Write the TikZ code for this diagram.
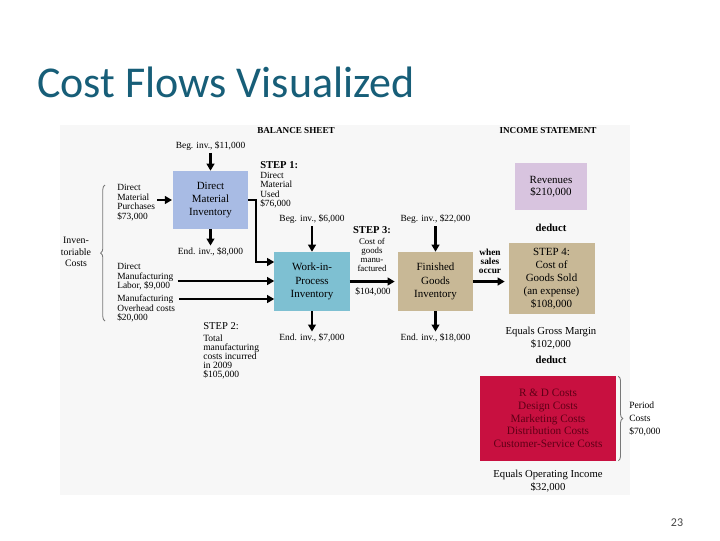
\documentclass[tikz,border=0pt]{standalone}
\usepackage{fontspec}
\setmainfont{Liberation Serif}
\newfontfamily\slidefont{Carlito}
\usetikzlibrary{arrows.meta,decorations.pathreplacing,positioning}

\definecolor{titleteal}{RGB}{23,94,120}
\definecolor{dmblue}{RGB}{168,187,228}
\definecolor{wipteal}{RGB}{126,192,210}
\definecolor{goodstan}{RGB}{200,184,150}
\definecolor{revlilac}{RGB}{216,196,223}
\definecolor{periodred}{RGB}{200,16,64}
\definecolor{periodtext}{RGB}{95,0,22}
\definecolor{bracegray}{RGB}{120,120,120}
\definecolor{pagegray}{RGB}{70,70,70}

\begin{document}
\begin{tikzpicture}
  [x=0.025cm,y=-0.025cm,>={Triangle[length=5pt,width=5.5pt]},%按像素坐标作图,y轴向下
   account/.style={rectangle,inner sep=0pt,align=center,font=\fontsize{7.8}{9.4}\selectfont},%账户方框的公共样式
   blue account/.style={account,fill=dmblue,minimum width=1.875cm,minimum height=1.45cm},
   teal account/.style={account,fill=wipteal,minimum width=1.875cm,minimum height=1.475cm},
   tan account/.style={account,fill=goodstan,minimum width=1.85cm,minimum height=1.475cm},
   lilac account/.style={account,fill=revlilac,minimum width=1.8cm,minimum height=1.175cm,font=\fontsize{7.8}{8.6}\selectfont},
   red account/.style={account,fill=periodred,text=periodtext,minimum width=3.4cm,minimum height=2.1cm,font=\fontsize{8}{9}\selectfont},
   note/.style={inner sep=0pt,font=\fontsize{6.7}{6.8}\selectfont},%小号说明文字
   remark/.style={inner sep=0pt,align=center,font=\fontsize{7.6}{9.2}\selectfont},%利润表中的说明文字
   heading/.style={inner sep=0pt,font=\bfseries\fontsize{6.5}{7}\selectfont},
   flow/.style={->,line width=1.6pt},%粗黑箭头
   brace/.style={decorate,decoration={brace,amplitude=1.1mm},draw=bracegray,line width=0.6pt}]

  \fill[white] (0,0) rectangle (720,540);
  \useasboundingbox (0,0) rectangle (720,540);
  \fill[black!3] (60,125) rectangle (630,495);%图片区域的浅灰底色

  % 标题与页码
  \node[anchor=base west,inner sep=0pt,text=titleteal,font=\slidefont\fontsize{31.3}{36}\selectfont] (title) at (37,97) {Cost Flows Visualized};
  \node[inner sep=0pt,text=pagegray,font=\slidefont\fontsize{8.5}{10}\selectfont] (page) at (677,523) {23};

  \node[heading] (bs) at (296,131) {BALANCE SHEET};
  \node[heading] (is) at (548,131) {INCOME STATEMENT};

  % 资产负债表中的三个存货账户
  \node[blue account] (dmi) at (210.5,200) {Direct\\Material\\Inventory};
  \node[teal account] (wip) at (312,281.5) {Work-in-\\Process\\Inventory};
  \node[tan account]  (fg)  at (435.5,281.5) {Finished\\Goods\\Inventory};

  \node[note] (beg1) [above=5mm of dmi]  {Beg. inv., \$11,000};
  \node[note] (end1) [below=4.6mm of dmi] {End. inv., \$8,000};
  \node[note] (beg2) [above=6.9mm of wip] {Beg. inv., \$6,000};
  \node[note] (end2) [below=5.6mm of wip] {End. inv., \$7,000};
  \node[note] (beg3) [above=6.9mm of fg]  {Beg. inv., \$22,000};
  \node[note] (end3) [below=5.6mm of fg]  {End. inv., \$18,000};

  \draw[flow,shorten <=1.5pt] (beg1) -- (dmi);
  \draw[flow,shorten >=1.5pt] (dmi) -- (end1);
  \draw[flow,shorten <=1.5pt] (beg2) -- (wip);
  \draw[flow,shorten >=1.5pt] (wip) -- (end2);
  \draw[flow,shorten <=1.5pt] (beg3) -- (fg);
  \draw[flow,shorten >=1.5pt] (fg) -- (end3);

  % 左侧的投入
  \node[note,align=left,anchor=west] (dmp) at (117,202.5) {Direct\\Material\\Purchases\\\$73,000};
  \node[note,align=left,anchor=west] (dml) at (117,277) {Direct\\Manufacturing\\Labor, \$9,000};
  \node[note,align=left,anchor=west] (moh) at (117,308.5) {Manufacturing\\Overhead costs\\\$20,000};

  \draw[flow,shorten <=1.5pt,shorten >=0.5pt] (dmp.east |- dmi.west) -- (dmi.west);
  \draw[flow] ([xshift=1mm]dml.east |- 0,281) -- (wip.west |- 0,281);
  \draw[flow] ([xshift=1mm]moh.east |- 0,299) -- (wip.west |- 0,299);
  \draw[flow] (dmi.east) -- ++(8,0) |- ([yshift=0.4875cm]wip.west);

  \draw[brace] (105,321) -- (105,185);
  \node[inner sep=0pt,align=center,font=\fontsize{7}{8.1}\selectfont] (inven) at (76,252) {Inven-\\toriable\\Costs};

  % 各步骤说明
  \node[inner sep=0pt,anchor=west,font=\bfseries\fontsize{7.5}{8}\selectfont] (step1) at (260,165) {STEP 1:};
  \node[note,align=left,anchor=north west] (used) at ([yshift=-0.7mm]step1.south west) {Direct\\Material\\Used\\\$76,000};

  \node[inner sep=0pt,anchor=west,font=\fontsize{7.5}{8}\selectfont] (step2) at (203,326) {STEP 2:};
  \node[inner sep=0pt,align=left,anchor=north west,font=\fontsize{6.8}{6.4}\selectfont] (total) at ([yshift=-1.2mm]step2.south west) {Total\\manufacturing\\costs incurred\\in 2009\\\$105,000};

  \node[inner sep=0pt,font=\bfseries\fontsize{7.5}{8}\selectfont] (step3) at (372,230) {STEP 3:};
  \node[inner sep=0pt,align=center,anchor=north,font=\fontsize{6.3}{6.4}\selectfont] (cgm) at ([yshift=-1mm]step3.south) {Cost of\\goods\\manu-\\factured};
  \node[note] (cgmval) at (373,292) {\$104,000};

  \draw[flow,shorten >=2.5pt] (wip.east) -- (fg.west);

  % 利润表
  \node[lilac account] (rev) at (551,186.5) {Revenues\\\$210,000};
  \node[remark,font=\bfseries\fontsize{7.6}{8}\selectfont] (deduct1) at (551,228) {deduct};
  \node[tan account,minimum width=2.15cm,minimum height=1.775cm,font=\fontsize{7.8}{9.2}\selectfont] (cogs) at (551.5,278.5)
    {STEP 4:\\Cost of\\Goods Sold\\(an expense)\\\$108,000};
  \node[inner sep=0pt,align=center,font=\bfseries\fontsize{6.6}{6.4}\selectfont] (when) at (490,261) {when\\sales\\occur};

  \draw[flow,shorten >=2.5pt] (fg.east) -- (fg.east -| cogs.west);

  \node[remark] (gross) at (551,338) {Equals Gross Margin\\\$102,000};
  \node[remark,font=\bfseries\fontsize{7.6}{8}\selectfont] (deduct2) at (551,360) {deduct};

  \node[red account] (period) at (548,418.5)
    {R \& D Costs\\Design Costs\\Marketing Costs\\Distribution Costs\\Customer-Service Costs};
  \draw[brace] ([xshift=0.5mm]period.north east) -- ([xshift=0.5mm]period.south east);
  \node[inner sep=0pt,align=left,anchor=west,font=\fontsize{6.8}{9.5}\selectfont] (pcost) at (629,419) {Period\\Costs\\\$70,000};

  \node[remark] (opinc) at (548,481) {Equals Operating Income\\\$32,000};
\end{tikzpicture}
\end{document}
